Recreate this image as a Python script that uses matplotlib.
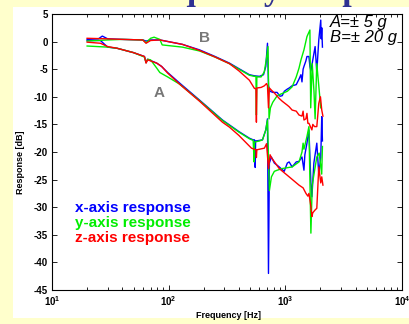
import matplotlib
matplotlib.use("Agg")
import matplotlib.pyplot as plt
from matplotlib.patches import Rectangle
import numpy as np

plt.rcParams['font.family'] = ['Liberation Sans', 'DejaVu Sans']
plt.rcParams['mathtext.fontset'] = 'custom'
plt.rcParams['mathtext.rm'] = 'Liberation Sans:bold'
plt.rcParams['mathtext.bf'] = 'Liberation Sans:bold'

# ---- data (frequency in Hz, response in dB) ----
# B = +-20 g sensor (upper group)
B_x_f = [20, 25, 27, 30, 40, 60, 64, 70, 84, 131, 184, 250, 332, 400, 492, 544, 600, 650, 680, 703, 717, 740, 780, 850, 900, 940, 980, 1040, 1080, 1143, 1240, 1310, 1360, 1389, 1420, 1444, 1500, 1532, 1593, 1624, 1656, 1720, 1800, 1860, 1935, 2012, 2030, 2052, 2080]
B_x_db = [0.4, 0.5, 1.0, 0.5, 0.4, 0.3, 0.1, 0.3, 0.3, -0.5, -1.5, -2.7, -3.9, -4.9, -6.0, -6.2, -6.3, -6.0, -4.5, -0.3, -8.0, -9.0, -9.2, -9.2, -9.9, -9.8, -9.0, -8.6, -8.4, -8.0, -7.8, -6.8, -6.0, -7.3, -5.0, -4.5, -3.5, -2.7, -2.7, -4.5, -5.3, -3.3, -0.9, -5.5, 0.3, 3.9, 0.5, 2.5, -1.0]

B_y_f = [20, 30, 40, 60, 64, 70, 75, 84, 88, 131, 184, 250, 332, 400, 492, 544, 560, 565, 570, 620, 660, 690, 710, 725, 745, 780, 852, 940, 1040, 1143, 1240, 1310, 1362, 1444, 1532, 1624, 1650, 1700, 1760, 1800, 1860, 1935, 2012]
B_y_db = [0.1, 0.3, 0.4, 0.3, -0.2, 0.6, 0.8, 0.4, -0.6, -1.0, -1.7, -2.8, -4.0, -5.0, -6.1, -6.3, -6.3, -13.3, -6.4, -6.4, -5.5, -3.0, -0.9, -14.0, -12.0, -11.0, -9.8, -9.4, -9.0, -8.2, -6.4, -4.8, -3.3, -1.5, 0.9, 2.1, -12.0, -4.0, -9.0, -14.0, -4.0, -8.0, -12.0]

B_z_f = [20, 30, 40, 60, 64, 70, 84, 131, 184, 250, 332, 400, 492, 544, 560, 565, 570, 620, 662, 690, 703, 717, 730, 760, 805, 886, 940, 1037, 1078, 1143, 1240, 1310, 1389, 1420, 1444, 1500, 1532, 1560, 1593, 1689, 1720, 1780, 1861, 1935, 2000, 2052, 2100]
B_z_db = [0.6, 0.5, 0.4, 0.3, -0.3, 0.2, 0.3, -0.5, -1.6, -2.8, -4.0, -5.3, -7.0, -8.5, -8.5, -14.6, -8.4, -8.3, -8.0, -7.6, -8.0, -12.0, -8.4, -8.8, -9.3, -10.3, -10.8, -11.5, -11.8, -12.4, -12.6, -13.3, -13.5, -12.6, -14.2, -14.0, -13.0, -14.8, -14.8, -16.0, -15.0, -15.4, -15.4, -11.2, -10.0, -12.4, -13.5]

# A = +-5 g sensor (lower group)
A_x_f = [20, 26, 30, 36, 50, 62, 64, 66, 79, 87, 98, 124, 184, 289, 400, 492, 530, 544, 548, 552, 556, 600, 637, 680, 703, 717, 730, 759, 805, 886, 978, 1040, 1078, 1143, 1240, 1310, 1389, 1444, 1470, 1532, 1593, 1656, 1689, 1756, 1861, 1935, 2012, 2052, 2080]
A_x_db = [0.2, 0.2, -1.0, -1.2, -2.0, -2.7, -3.8, -3.2, -3.9, -4.5, -5.6, -7.5, -10.6, -14.2, -16.3, -17.5, -17.8, -17.8, -20.9, -22.8, -18.0, -17.9, -17.8, -16.0, -14.0, -42.0, -22.0, -20.9, -22.0, -22.7, -23.5, -22.0, -21.8, -22.7, -21.8, -21.7, -20.9, -23.3, -20.5, -18.4, -16.0, -25.6, -28.1, -22.0, -18.4, -24.0, -21.0, -13.6, -18.0]

A_y_f = [20, 30, 36, 50, 62, 64, 66, 70, 79, 84, 98, 124, 184, 289, 400, 492, 530, 540, 544, 600, 637, 680, 703, 730, 760, 805, 852, 940, 1143, 1310, 1389, 1420, 1444, 1532, 1593, 1656, 1700, 1861, 1950, 2050, 2080]
A_y_db = [-0.8, -1.0, -1.2, -2.0, -2.8, -3.8, -3.2, -3.3, -4.8, -5.6, -6.4, -7.7, -10.7, -14.3, -16.4, -17.6, -17.9, -21.8, -18.2, -18.0, -17.8, -16.0, -14.2, -27.0, -24.5, -23.5, -23.3, -23.0, -22.7, -21.8, -20.0, -18.4, -19.5, -17.2, -15.4, -34.7, -26.0, -20.9, -20.2, -24.0, -19.0]

A_z_f = [20, 26, 30, 36, 50, 62, 64, 66, 79, 87, 98, 124, 184, 289, 332, 400, 512, 560, 565, 570, 662, 690, 717, 740, 759, 886, 1078, 1310, 1420, 1502, 1560, 1593, 1656, 1689, 1720, 1800, 1861, 1935, 2012, 2052, 2100]
A_z_db = [-0.1, -0.3, -0.9, -1.2, -2.0, -2.7, -3.9, -3.3, -3.9, -4.5, -5.7, -7.7, -10.8, -14.6, -15.5, -17.0, -19.3, -19.6, -21.0, -19.6, -19.3, -18.5, -23.0, -20.5, -21.0, -23.0, -24.5, -26.0, -26.5, -27.5, -28.0, -27.5, -29.9, -31.7, -31.0, -30.5, -30.2, -22.7, -25.6, -24.5, -26.0]

legend_labels = ["x-axis response", "y-axis response", "z-axis response"]
series_colors = ["#0000ff", "#00ee00", "#ff0000"]

x_ticks = [10, 100, 1000, 10000]
x_tick_labels = [r'$10^{1}$', r'$10^{2}$', r'$10^{3}$', r'$10^{4}$']
y_ticks = [5, 0, -5, -10, -15, -20, -25, -30, -35, -40, -45]

# ---- figure ----
W, H = 410, 324
fig = plt.figure(figsize=(W / 100, H / 100), dpi=100)
fig.patch.set_facecolor('#ffffcc')
fig.patches.append(Rectangle((13 / W, 1 - 318 / H), 1 - 13 / W, (318 - 7) / H,
                             transform=fig.transFigure, facecolor='white',
                             edgecolor='none', zorder=-5))

# partially visible title (only descenders show)
fig.text(127 / W, 1.0, "Frequency Response", family='Liberation Serif',
         fontweight='bold', fontsize=24.5, color='#2e3192', va='baseline', ha='left')

ax = fig.add_axes([52 / W, 1 - 290 / H, 350 / W, 276 / H])
ax.set_zorder(2)
ax.set_facecolor('white')

groups = [(B_x_f, B_x_db, A_x_f, A_x_db),
          (B_y_f, B_y_db, A_y_f, A_y_db),
          (B_z_f, B_z_db, A_z_f, A_z_db)]
for (bf, bd, af, ad), c in zip(groups, series_colors):
    ax.plot(bf, bd, color=c, lw=1.0)
    ax.plot(af, ad, color=c, lw=1.0)

ax.set_xscale('log')
ax.set_xlim(10, 10000)
ax.set_ylim(-45, 5)
ax.set_xticks(x_ticks)
ax.set_xticklabels(x_tick_labels)
ax.set_yticks(y_ticks)
ax.set_yticklabels([str(v) for v in y_ticks])
ax.tick_params(which='both', direction='in', top=True, right=True)
ax.tick_params(which='major', length=3.5, width=0.6, labelsize=7, pad=3)
ax.tick_params(which='minor', length=2, width=0.6)
for lab in ax.get_yticklabels():
    lab.set_fontweight('bold')
for sp in ax.spines.values():
    sp.set_linewidth(0.8)

fig.text(229 / W, 1 - 316 / H, "Frequency [Hz]", fontsize=6.5, fontweight='bold',
         ha='center', va='center')
fig.text(21 / W, 1 - 162 / H, "Response [dB]", fontsize=6.5, fontweight='bold',
         ha='center', va='center', rotation=90)

# curve group labels
ax.text(206 / W * 0 + 0.4346, 1 - (38 - 14) / 276, "B", transform=ax.transAxes,
        fontsize=11, fontweight='bold', color='#777777', ha='center', va='center')
ax.text(0.3057, 1 - (93 - 14) / 276, "A", transform=ax.transAxes,
        fontsize=11, fontweight='bold', color='#777777', ha='center', va='center')

ax.text(0.7943, 1 - (27 - 14) / 276, "A=± 5 g", transform=ax.transAxes, fontsize=12,
        fontstyle='italic', ha='left', va='baseline', clip_on=False)
ax.text(0.7943, 1 - (42 - 14) / 276, "B=± 20 g", transform=ax.transAxes, fontsize=12,
        fontstyle='italic', ha='left', va='baseline', clip_on=False)

for i, (lab, c) in enumerate(zip(legend_labels, series_colors)):
    ax.text(23 / 350, 1 - (208 + 15 * i - 14) / 276, lab, transform=ax.transAxes,
            fontsize=11, fontweight='bold', color=c, ha='left', va='center')

fig.savefig("out.png", dpi=100, facecolor=fig.get_facecolor())
